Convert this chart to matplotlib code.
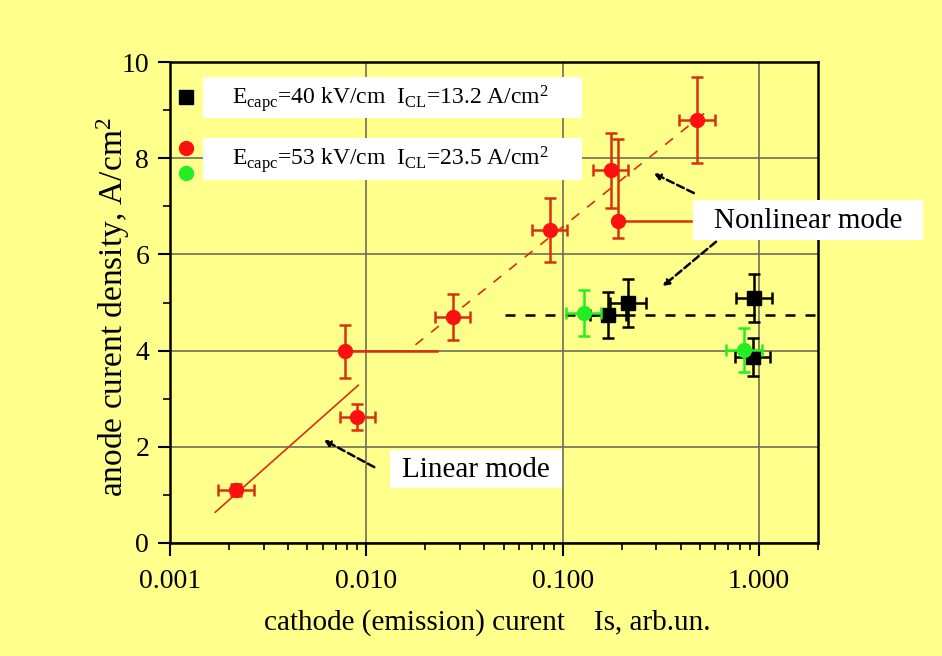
import matplotlib
matplotlib.use("Agg")
import matplotlib.pyplot as plt
from matplotlib.patches import Rectangle
import numpy as np

# ---- data ----
red_x = [0.00217, 0.0078, 0.0090, 0.0275, 0.086, 0.176, 0.191, 0.483]
red_y = [1.10, 3.99, 2.62, 4.70, 6.51, 7.75, 6.69, 8.79]
red_yerr_lo = [0.12, 0.55, 0.27, 0.47, 0.66, 0.78, 0.35, 0.90]
red_yerr_hi = [0.12, 0.55, 0.27, 0.47, 0.66, 0.78, 1.70, 0.90]
red_xerr_dec = [0.09, 0.0, 0.09, 0.09, 0.09, 0.09, 0.0, 0.09]

green_x = [0.128, 0.84]
green_y = [4.78, 4.01]
green_yerr = [0.47, 0.45]
green_xerr_dec = [0.09, 0.09]

black_x = [0.170, 0.215, 0.943, 0.93]
black_y = [4.74, 4.99, 5.09, 3.87]
black_yerr = [0.47, 0.49, 0.50, 0.40]
black_xerr_dec = [0.09, 0.09, 0.09, 0.09]

lin_fit_x = [0.00170, 0.0091]
lin_fit_y = [0.64, 3.28]
nonlin_fit_x = [0.0178, 0.537]
nonlin_fit_y = [4.12, 8.96]
sat_level_x = [0.051, 2.0]
sat_level_y = [4.73, 4.73]
red_h1_x = [0.0078, 0.023]
red_h1_y = [3.99, 3.99]
red_h2_x = [0.191, 0.45]
red_h2_y = [6.69, 6.69]

legend_labels = [r"E$_{capc}$=40 kV/cm  I$_{CL}$=13.2 A/cm$^2$",
                 r"E$_{capc}$=53 kV/cm  I$_{CL}$=23.5 A/cm$^2$"]
x_ticks = [0.001, 0.01, 0.1, 1.0]
x_ticklabels = ["0.001", "0.010", "0.100", "1.000"]
y_ticks = [0, 2, 4, 6, 8, 10]

# ---- style ----
plt.rcParams['font.family'] = ['Liberation Serif', 'DejaVu Serif']
plt.rcParams['mathtext.fontset'] = 'custom'
plt.rcParams['mathtext.rm'] = 'Liberation Serif'
plt.rcParams['mathtext.it'] = 'Liberation Serif'
plt.rcParams['mathtext.default'] = 'rm'

bg = '#FFFF8C'
RED = '#FF1010'
DRED = '#D8300F'
GREEN = '#22EE22'

fig = plt.figure(figsize=(9.42, 6.56), dpi=100, facecolor=bg)
ax = fig.add_axes([170/942, 1-543/656, (818-170)/942, (543-62)/656])
ax.set_facecolor(bg)
ax.set_xscale('log')
ax.set_xlim(0.001, 2.0)
ax.set_ylim(0, 10)

ax.grid(True, which='major', color='#6E6E5A', lw=1.2)
ax.set_axisbelow(True)


def xerr_from_dec(x, d):
    x = np.asarray(x); d = np.asarray(d)
    return [x - x / 10**d, x * 10**d - x]


# lines
ax.plot(lin_fit_x, lin_fit_y, color=DRED, lw=1.2, zorder=3)
ax.plot(nonlin_fit_x, nonlin_fit_y, color=DRED, lw=1.2, ls=(0, (6, 6)), zorder=3)
ax.plot(sat_level_x, sat_level_y, color='black', lw=1.8, ls=(0, (4, 4)), zorder=3)
ax.plot(red_h1_x, red_h1_y, color=DRED, lw=1.8, zorder=3)
ax.plot(red_h2_x, red_h2_y, color=DRED, lw=1.8, zorder=3)

# data with error bars
ax.errorbar(red_x, red_y, yerr=[red_yerr_lo, red_yerr_hi],
            xerr=xerr_from_dec(red_x, red_xerr_dec), fmt='o', ms=10,
            mfc=RED, mec=RED, ecolor=DRED, elinewidth=1.8, capsize=4,
            capthick=1.8, zorder=4)
ax.errorbar(black_x, black_y, yerr=black_yerr,
            xerr=xerr_from_dec(black_x, black_xerr_dec), fmt='s', ms=10,
            mfc='black', mec='black', ecolor='black', elinewidth=1.8, capsize=4,
            capthick=1.8, zorder=4)
ax.errorbar(green_x, green_y, yerr=green_yerr,
            xerr=xerr_from_dec(green_x, green_xerr_dec), fmt='o', ms=10,
            mfc=GREEN, mec=GREEN, ecolor=GREEN, elinewidth=1.8, capsize=4,
            capthick=1.8, zorder=5)

# axes ticks
ax.set_xticks(x_ticks)
ax.set_xticklabels(x_ticklabels)
ax.set_yticks(y_ticks)
ax.set_yticks([1, 3, 5, 7, 9], minor=True)
ax.tick_params(which='major', direction='out', length=9, width=1.5,
               labelsize=20, pad=6)
ax.tick_params(axis='x', which='major', pad=10)
ax.tick_params(which='minor', direction='out', length=5, width=1.2)
ax.tick_params(axis='x', which='minor', labelbottom=False)
for s in ax.spines.values():
    s.set_linewidth(1.8)
    s.set_color('black')

ax.set_xlabel("cathode (emission) curent    Is, arb.un.", fontsize=21)
ax.xaxis.set_label_coords(0.49, -0.138)
ax.set_ylabel(r"anode curent density, A/cm$^{\mathregular{2}}$", fontsize=24)
ax.yaxis.set_label_coords(-0.058, 0.49)

# legend (manual)
T = ax.transAxes
for (y0, y1) in [(0.884, 0.969), (0.755, 0.842)]:
    ax.add_patch(Rectangle((0.051, y0), 0.585, y1 - y0, transform=T,
                           fc='white', ec='none', zorder=6))
ax.plot([0.025], [0.927], marker='s', ms=10, color='black', ls='none',
        transform=T, zorder=7)
ax.plot([0.025], [0.821], marker='o', ms=10, color=RED, ls='none',
        transform=T, zorder=7)
ax.plot([0.025], [0.769], marker='o', ms=10, color=GREEN, ls='none',
        transform=T, zorder=7)
ax.text(0.096, 0.925, legend_labels[0], fontsize=17, va='center', ha='left',
        transform=T, zorder=8)
ax.text(0.096, 0.797, legend_labels[1], fontsize=17, va='center', ha='left',
        transform=T, zorder=8)

# annotation boxes
ax.add_patch(Rectangle((0.340, 0.114), 0.265, 0.079, transform=T,
                       fc='white', ec='none', zorder=6))
ax.text(0.472, 0.152, "Linear mode", fontsize=21, ha='center', va='center',
        transform=T, zorder=8)
ax.add_patch(Rectangle((0.807, 0.630), 0.355, 0.083, transform=T,
                       fc='white', ec='none', zorder=6, clip_on=False))
ax.text(0.985, 0.670, "Nonlinear mode", fontsize=21, ha='center', va='center',
        transform=T, zorder=8, clip_on=False)

arrow_kw = dict(arrowstyle='-|>', color='black', lw=1.8, ls=(0, (3, 1.5)),
                mutation_scale=9)
ax.annotate("", xy=(0.0059, 2.17), xytext=(0.0113, 1.55), arrowprops=arrow_kw, zorder=7)
ax.annotate("", xy=(0.283, 7.71), xytext=(0.48, 7.25), arrowprops=arrow_kw, zorder=7)
ax.annotate("", xy=(0.315, 5.3), xytext=(0.62, 6.3), arrowprops=arrow_kw, zorder=7)

fig.savefig("out.png", dpi=100, facecolor=bg)
